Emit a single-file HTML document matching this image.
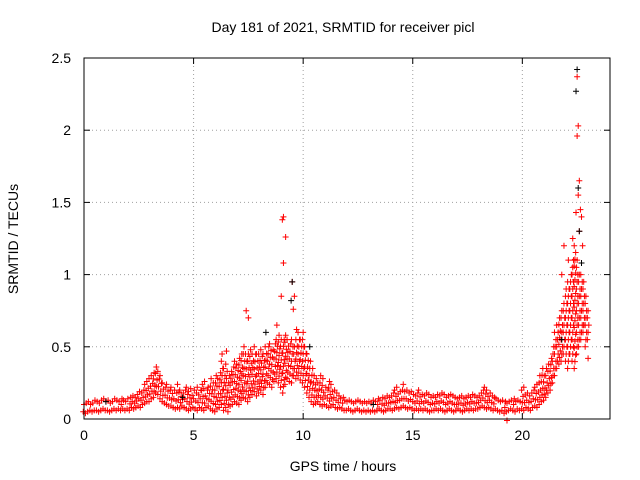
<!DOCTYPE html>
<html><head><meta charset="utf-8"><style>
body{margin:0;background:#fff}
svg{display:block;font-family:"Liberation Sans",sans-serif}
</style></head><body>
<svg id="chart" width="640" height="480">
<rect width="640" height="480" fill="#fff"/>
<text x="343" y="32" font-size="14" text-anchor="middle">Day 181 of 2021, SRMTID for receiver picl</text>
<text x="343" y="471" font-size="14" text-anchor="middle">GPS time / hours</text>
<text transform="translate(18,239) rotate(-90)" font-size="14" text-anchor="middle">SRMTID / TECUs</text>
<g id="grid"></g><g id="ticks"></g><g id="marks"></g>
<rect x="84" y="58" width="526" height="361" fill="none" stroke="#000" stroke-width="1"/>
</svg>
<script>
const xTicks=[0,5,10,15,20];
const yTicks=[0,0.5,1,1.5,2,2.5];
const yTickLabels=["0","0.5","1","1.5","2","2.5"];
const tStep=0.1;
const lower=[.05,.04,.05,.06,.05,.06,.06,.05,.06,.07,
.06,.06,.05,.06,.07,.06,.07,.06,.07,.06,
.07,.06,.08,.07,.08,.09,.08,.10,.11,.12,
.12,.14,.15,.18,.17,.14,.12,.11,.10,.09,
.09,.08,.07,.08,.07,.09,.08,.07,.06,.07,
.08,.07,.06,.08,.07,.06,.08,.09,.07,.06,
.05,.07,.08,.10,.06,.08,.05,.09,.10,.12,
.11,.10,.13,.15,.14,.12,.15,.17,.19,.16,
.18,.20,.17,.22,.25,.24,.22,.26,.28,.25,
.22,.18,.24,.28,.26,.25,.30,.28,.30,.27,
.25,.22,.18,.15,.12,.10,.11,.12,.10,.09,
.10,.09,.08,.09,.10,.08,.07,.08,.07,.06,
.06,.07,.06,.05,.06,.07,.06,.05,.06,.05,
.06,.05,.06,.05,.06,.07,.06,.05,.06,.07,
.07,.06,.07,.08,.07,.08,.09,.08,.07,.08,
.07,.06,.07,.06,.07,.06,.07,.06,.05,.06,
.06,.07,.06,.07,.06,.05,.06,.07,.06,.05,
.06,.07,.06,.05,.06,.07,.06,.07,.06,.07,
.07,.08,.09,.08,.07,.08,.07,.06,.07,.06,
.05,.06,.04,.05,.06,.07,.06,.05,.07,.06,
.07,.06,.08,.07,.06,.08,.09,.08,.10,.12,
.13,.15,.18,.20,.25,.30,.35,.38,.40,.45,
.40,.35,.45,.40,.35,.45,.50,.55,.60,.50,
.55];
const upper=[.10,.11,.12,.10,.11,.13,.12,.11,.13,.14,
.12,.13,.11,.12,.14,.13,.12,.14,.13,.12,
.14,.15,.16,.15,.17,.19,.18,.20,.24,.26,
.28,.30,.32,.36,.33,.30,.25,.22,.24,.20,
.22,.20,.18,.24,.20,.18,.20,.22,.19,.21,
.20,.18,.22,.20,.24,.26,.20,.22,.28,.25,
.30,.28,.32,.45,.35,.38,.30,.33,.36,.40,
.38,.42,.45,.50,.45,.45,.48,.45,.50,.45,
.45,.48,.45,.50,.50,.52,.48,.52,.55,.58,
.55,.55,.58,.55,.52,.55,.50,.55,.60,.55,
.60,.50,.45,.40,.35,.30,.28,.25,.30,.28,
.22,.20,.26,.24,.20,.18,.16,.14,.15,.13,
.12,.13,.12,.11,.12,.13,.12,.11,.12,.11,
.12,.11,.13,.12,.14,.13,.15,.14,.16,.15,
.16,.18,.20,.22,.19,.20,.24,.20,.18,.19,
.17,.16,.18,.20,.17,.16,.18,.17,.15,.16,
.15,.17,.16,.18,.17,.15,.16,.17,.16,.15,
.14,.15,.16,.14,.15,.16,.15,.17,.16,.15,
.16,.18,.20,.22,.20,.18,.16,.15,.14,.13,
.12,.13,.12,.11,.12,.13,.14,.12,.13,.12,
.20,.22,.18,.16,.18,.20,.22,.24,.30,.35,
.30,.35,.38,.42,.50,.60,.65,.70,.75,.80,
.90,.95,1.0,1.1,1.2,1.1,1.0,1.0,.95,.85,
.75];
const spikeT=[22.5,22.55,22.5,22.6,22.55,22.65,22.45,22.7,22.6,22.75,22.4,21.9,21.8,22.1,9.1,9.05,9.2,9.1,9.0,9.5,9.6,9.55,9.7,7.4,7.5,6.5,8.8,23.0,19.3,22.8,22.3];
const spikeV=[2.37,2.03,1.96,1.65,1.55,1.45,1.43,1.40,1.30,1.20,1.10,1.20,1.00,1.10,1.40,1.38,1.26,1.08,0.85,0.95,0.85,0.76,0.62,0.75,0.70,0.47,0.65,0.42,-0.01,0.65,1.25];
const blackT=[22.5,22.55,22.6,9.5,10.3,8.3,22.45,22.7,9.45,21.8,1.0,4.5,13.2];
const blackV=[2.42,1.60,1.30,0.95,0.50,0.60,2.27,1.08,0.82,0.55,0.12,0.15,0.10];

const X0=84,X1=610,Y0=419,Y1=58;
const xs=t=>X0+t/24*(X1-X0);
const ys=v=>Y0-v/2.5*(Y0-Y1);
const NS="http://www.w3.org/2000/svg";
const grid=document.getElementById('grid'),ticks=document.getElementById('ticks'),marks=document.getElementById('marks');
function mk(tag,attrs,parent){const e=document.createElementNS(NS,tag);for(const k in attrs)e.setAttribute(k,attrs[k]);parent.appendChild(e);return e;}
xTicks.forEach(t=>{
  const x=xs(t);
  if(t>0){const g=mk('line',{x1:x,x2:x,y1:Y0,y2:Y1,stroke:'#a0a0a0','stroke-dasharray':'1,3'},grid);
  
  }
  mk('line',{x1:x,x2:x,y1:Y0,y2:Y0-6,stroke:'#000'},ticks);
  mk('line',{x1:x,x2:x,y1:Y1,y2:Y1+6,stroke:'#000'},ticks);
  const l=mk('text',{x:x,y:Y0+21,'font-size':14,'text-anchor':'middle'},ticks);l.textContent=t;
  
  
});
yTicks.forEach((v,i)=>{
  const y=ys(v);
  if(v>0&&v<2.5){const g=mk('line',{x1:X0,x2:X1,y1:y,y2:y,stroke:'#a0a0a0','stroke-dasharray':'1,3'},grid);
  
  }
  mk('line',{x1:X0,x2:X0+6,y1:y,y2:y,stroke:'#000'},ticks);
  mk('line',{x1:X1,x2:X1-6,y1:y,y2:y,stroke:'#000'},ticks);
  const l=mk('text',{x:X0-13,y:y+5,'font-size':14,'text-anchor':'end'},ticks);l.textContent=yTickLabels[i];
  
  
});
function plus(t,v,col){
  const x=xs(t),y=ys(v);
  const p=mk('path',{d:`M${x-3} ${y}h6M${x} ${y-3}v6`,stroke:col,'stroke-width':1,fill:'none'},marks);
  
  
}
for(let i=0;i<lower.length;i++){
  const t=i*tStep,lo=lower[i],hi=upper[i];
  const yl=ys(lo),yh=ys(hi);
  const n=Math.max(1,Math.round((yl-yh)/7));
  for(let k=0;k<=n;k++){
    const v=lo+(hi-lo)*k/n;
    plus(t+((k%3)-1)*tStep/3,v,'#ff0000');
  }
}
spikeT.forEach((t,i)=>plus(t,spikeV[i],'#ff0000'));
blackT.forEach((t,i)=>plus(t,blackV[i],'#000000'));
</script>
</body></html>
